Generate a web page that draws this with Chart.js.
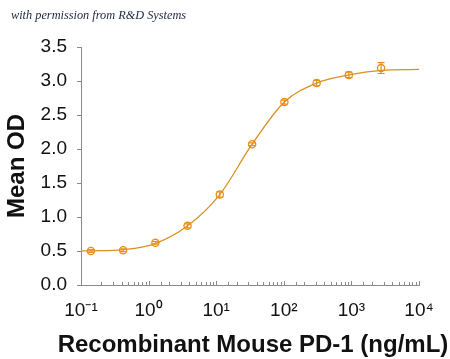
<!DOCTYPE html>
<html>
<head>
<meta charset="utf-8">
<script src="https://cdn.jsdelivr.net/npm/chart.js@4.4.1/dist/chart.umd.min.js"></script>
<style>
html,body{margin:0;padding:0;background:#fff;}
#wrap{width:450px;height:359px;position:relative;}
</style>
</head>
<body>
<div id="wrap"><canvas id="c" width="450" height="359"></canvas></div>
<script>
// Data
const concentration = [0.14, 0.42, 1.26, 3.77, 11.3, 34, 102, 306, 917, 2750];
const meanOD       = [0.50, 0.51, 0.62, 0.87, 1.33, 2.07, 2.69, 2.97, 3.09, 3.19];
const errorOD      = [0.02, 0.02, 0.02, 0.03, 0.04, 0.02, 0.03, 0.04, 0.04, 0.08];
// Fitted curve
const fitX = [0.1, 0.14, 0.42, 1.26, 3.77, 11.3, 34, 102, 306, 917, 2750, 10000];
const fitY = [0.50, 0.502, 0.52, 0.61, 0.87, 1.33, 2.07, 2.69, 2.97, 3.09, 3.155, 3.17];
const yTicks = [0, 0.5, 1.0, 1.5, 2.0, 2.5, 3.0, 3.5];
const xTickLabels = {'-1':'10⁻¹','0':'10⁰','1':'10¹','2':'10²','3':'10³','4':'10⁴'};
const caption = 'with permission from R&D Systems';
const xTitle = 'Recombinant Mouse PD-1 (ng/mL)';
const yTitle = 'Mean OD';

const orange = '#E8901C';
const lineOrange = '#DB9020';
const axisGray = '#8a8a8a';

const extras = {
  id: 'extras',
  afterDatasetsDraw(chart) {
    const ctx = chart.ctx, xs = chart.scales.x, ys = chart.scales.y;
    ctx.save();
    ctx.strokeStyle = orange;
    ctx.lineWidth = 1.2;
    concentration.forEach((c, i) => {
      const px = xs.getPixelForValue(c);
      const top = ys.getPixelForValue(meanOD[i] + errorOD[i]);
      const bot = ys.getPixelForValue(meanOD[i] - errorOD[i]);
      ctx.beginPath();
      ctx.moveTo(px, top); ctx.lineTo(px, bot);
      ctx.moveTo(px - 3.5, top); ctx.lineTo(px + 3.5, top);
      ctx.moveTo(px - 3.5, bot); ctx.lineTo(px + 3.5, bot);
      ctx.stroke();
    });
    // x axis tick marks (inside, upward)
    ctx.strokeStyle = axisGray;
    ctx.lineWidth = 1;
    const yb = chart.chartArea.bottom;
    xs.ticks.forEach(t => {
      const l = Math.log10(t.value);
      const major = Math.abs(l - Math.round(l)) < 1e-6;
      const px = Math.round(xs.getPixelForValue(t.value)) + 0.5;
      ctx.beginPath();
      ctx.moveTo(px, yb);
      ctx.lineTo(px, yb - (major ? 4 : 3));
      ctx.stroke();
    });
    ctx.restore();
  },
  afterDraw(chart) {
    const ctx = chart.ctx;
    ctx.save();
    ctx.font = 'italic 12.3px "Liberation Serif"';
    ctx.fillStyle = '#1c2640';
    ctx.textBaseline = 'alphabetic';
    ctx.textAlign = 'left';
    ctx.fillText(caption, 11, 18.5);
    // x axis title (drawn without the library's width squeeze)
    ctx.font = 'bold 24px "Liberation Sans"';
    ctx.fillStyle = '#111';
    ctx.textAlign = 'center';
    const ca = chart.chartArea;
    ctx.fillText(xTitle, (ca.left + ca.right) / 2 + 3, 352);
    ctx.restore();
  }
};

new Chart(document.getElementById('c'), {
  type: 'scatter',
  data: {
    datasets: [
      {
        type: 'line',
        data: fitX.map((x, i) => ({x: x, y: fitY[i]})),
        borderColor: lineOrange,
        borderWidth: 1.3,
        pointRadius: 0,
        fill: false,
        cubicInterpolationMode: 'monotone'
      },
      {
        type: 'scatter',
        data: concentration.map((x, i) => ({x: x, y: meanOD[i]})),
        pointRadius: 3.6,
        pointStyle: 'circle',
        borderColor: orange,
        backgroundColor: 'rgba(255,255,255,0)',
        borderWidth: 1.3
      }
    ]
  },
  options: {
    responsive: false,
    animation: false,
    devicePixelRatio: 1,
    layout: {padding: {left: 0, top: 47, right: 31, bottom: 0}},
    plugins: {legend: {display: false}, tooltip: {enabled: false}},
    scales: {
      x: {
        type: 'logarithmic',
        min: 0.1, max: 10000,
        afterFit(s) { s.height = 74; },
        grid: {display: false},
        border: {display: true, color: axisGray, width: 1},
        ticks: {
          autoSkip: false, maxRotation: 0, minRotation: 0,
          padding: 6,
          color: '#111',
          font: {family: '"Liberation Sans", Arial', size: 19},
          callback(v) {
            const l = Math.log10(v);
            if (Math.abs(l - Math.round(l)) < 1e-6) return xTickLabels[String(Math.round(l))];
            return '';
          }
        },
        title: {display: false}
      },
      y: {
        min: 0, max: 3.5,
        afterFit(s) { s.width = 81; },
        afterBuildTicks(s) { s.ticks = yTicks.map(v => ({value: v})); },
        grid: {display: true, drawOnChartArea: false, drawTicks: true, tickLength: 4, color: axisGray},
        border: {display: true, color: axisGray, width: 1},
        ticks: {
          padding: 10, color: '#111',
          font: {family: '"Liberation Sans", Arial', size: 19},
          callback(v) { return Number(v).toFixed(1); }
        },
        title: {
          display: true, text: yTitle, color: '#111',
          font: {family: '"Liberation Sans", Arial', size: 24, weight: 'bold', lineHeight: 1.2},
          padding: {top: 3, bottom: 0}
        }
      }
    }
  },
  plugins: [extras]
});
</script>
</body>
</html>
